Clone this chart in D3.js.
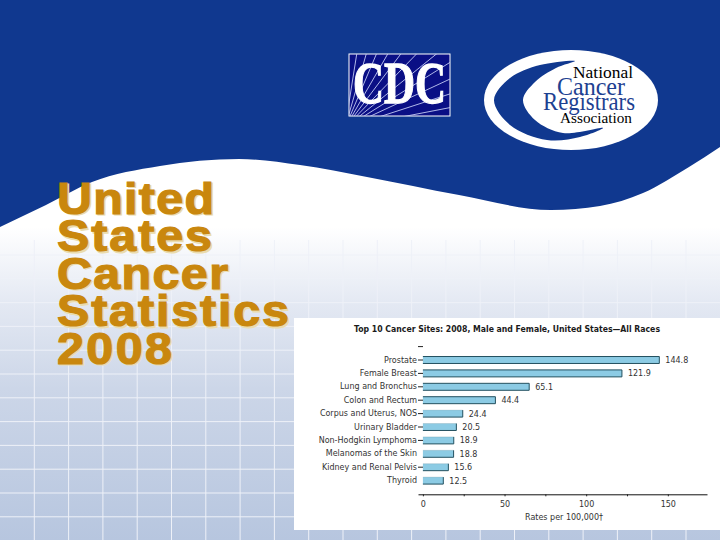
<!DOCTYPE html>
<html>
    <head>
        <meta charset="utf-8">
        <script src="https://cdnjs.cloudflare.com/ajax/libs/d3/7.8.5/d3.min.js" type="text/JavaScript"></script>
        <style>
            html, body { margin: 0; padding: 0; background: #fff; }
            svg { display: block; }
        </style>
    </head>
    <body>
        <svg width="720" height="540"></svg>
        <script>
            var categories = ["Prostate", "Female Breast", "Lung and Bronchus", "Colon and Rectum", "Corpus and Uterus, NOS", "Urinary Bladder", "Non-Hodgkin Lymphoma", "Melanomas of the Skin", "Kidney and Renal Pelvis", "Thyroid"];
            var rates = [144.8, 121.9, 65.1, 44.4, 24.4, 20.5, 18.9, 18.8, 15.6, 12.5];
            var xTicks = [0, 25, 50, 75, 100, 125, 150];
            var xTickLabels = ["0", "", "50", "", "100", "", "150"];
            var chartTitle = "Top 10 Cancer Sites: 2008, Male and Female, United States\u2014All Races";
            var xTitle = "Rates per 100,000\u2020";
            var slideTitle = ["United", "States", "Cancer", "Statistics", "2008"];

            var svg = d3.select("svg");
            var defs = svg.append("defs");

            // slide background
            var grad = defs.append("linearGradient").attr("id", "bg").attr("x1", 0).attr("y1", 0).attr("x2", 0).attr("y2", 1);
            grad.append("stop").attr("offset", "0.42").attr("stop-color", "#ffffff");
            grad.append("stop").attr("offset", "0.56").attr("stop-color", "#e4e9f3");
            grad.append("stop").attr("offset", "0.72").attr("stop-color", "#ccd6e8");
            grad.append("stop").attr("offset", "1").attr("stop-color", "#b7c6df");
            svg.append("rect").attr("width", 720).attr("height", 540).attr("fill", "url(#bg)");

            svg.selectAll("line.gridh").data(d3.range(255, 540, 23.8)).enter().append("line")
                .attr("x1", 0).attr("x2", 720).attr("y1", d => d).attr("y2", d => d)
                .attr("stroke", "#eef1f8").attr("stroke-width", 1);
            svg.selectAll("line.gridv").data(d3.range(34.3, 720, 34.3)).enter().append("line")
                .attr("x1", d => d).attr("x2", d => d).attr("y1", 240).attr("y2", 540)
                .attr("stroke", "#eef1f8").attr("stroke-width", 1);

            // blue band on top
            var wave = [[0, 227], [46, 205], [92, 182], [160, 166], [239, 159], [300, 165], [367, 177], [459, 195], [551, 210], [600, 206], [643, 193], [689, 167], [720, 147]];
            var waveLine = d3.line().curve(d3.curveMonotoneX);
            svg.append("path").attr("d", "M0,0L720,0L" + waveLine(wave.slice().reverse()).slice(1) + "Z").attr("fill", "#10388f");

            // CDC logo
            defs.append("clipPath").attr("id", "cdcClip").append("rect").attr("x", 349).attr("y", 54).attr("width", 101).attr("height", 62);
            svg.append("rect").attr("x", 349).attr("y", 54).attr("width", 101).attr("height", 62).attr("fill", "#0a0f85").attr("stroke", "#ffffff");
            svg.append("g").attr("clip-path", "url(#cdcClip)").selectAll("line").data(d3.range(4, 90, 7)).enter().append("line")
                .attr("x1", 345).attr("y1", 128)
                .attr("x2", d => 345 + 180 * Math.cos(d * Math.PI / 180))
                .attr("y2", d => 128 - 180 * Math.sin(d * Math.PI / 180))
                .attr("stroke", "#c3cbf4").attr("stroke-width", 0.9);
            svg.append("text").text("CDC").attr("x", 353).attr("y", 103).attr("font-family", "Liberation Serif").attr("font-weight", "bold")
                .attr("font-size", 60).attr("fill", "#ffffff").attr("stroke", "#ffffff").attr("stroke-width", 1.3)
                .attr("textLength", 93).attr("lengthAdjust", "spacingAndGlyphs");

            // NCRA logo
            svg.append("ellipse").attr("cx", 571).attr("cy", 100).attr("rx", 87).attr("ry", 50).attr("fill", "#ffffff");
            var crescent = [[575, 61], [540, 65], [510, 78], [494, 100], [510, 125], [547, 140], [580, 137], [603, 128], [563, 133], [535, 120], [523, 100], [535, 82], [556, 68]];
            svg.append("path").attr("d", d3.line().curve(d3.curveCatmullRomClosed)(crescent)).attr("fill", "#10388f");
            var ncra = [["National", 573, 78, 17, 60, "#000000"], ["Cancer", 557, 95, 25, 68, "#1d4191"], ["Registrars", 543, 110, 25, 92, "#1d4191"], ["Association", 560, 123, 15, 72, "#000000"]];
            svg.selectAll("text.ncra").data(ncra).enter().append("text").attr("class", "ncra")
                .text(d => d[0]).attr("x", d => d[1]).attr("y", d => d[2]).attr("font-size", d => d[3])
                .attr("textLength", d => d[4]).attr("lengthAdjust", "spacingAndGlyphs").attr("fill", d => d[5])
                .attr("font-family", "Liberation Serif");

            // slide title, wide glyphs plus a little tracking
            var titleWidths = [157, 155, 171, 232, 115];
            var titleStretch = 1.1;
            [["#eadcae", 1.5], ["#c9870e", 0]].forEach(function (layer) {
                svg.append("g").attr("transform", "scale(" + titleStretch + ",1)").selectAll("text").data(slideTitle).enter().append("text")
                    .text(d => d)
                    .attr("x", (57 + layer[1]) / titleStretch).attr("y", (d, i) => 214 + layer[1] + i * 37.5)
                    .attr("font-family", "Liberation Sans").attr("font-weight", "bold").attr("font-size", 44)
                    .attr("textLength", (d, i) => titleWidths[i] / titleStretch).attr("lengthAdjust", "spacing")
                    .attr("fill", layer[0]).attr("stroke", layer[0]).attr("stroke-width", 1.2);
            });

            // chart panel
            svg.append("rect").attr("x", 294).attr("y", 318).attr("width", 426).attr("height", 212).attr("fill", "#ffffff");

            var x = d3.scaleLinear().domain([-3, 174]).range([418, 707]);
            var y = d3.scaleBand().domain(["top"].concat(categories)).range([339.9, 487.3]).paddingInner(0.48).paddingOuter(0.24);
            var chartFont = "DejaVu Sans";
            var edge = "#23505f";

            svg.append("text").text(chartTitle).attr("x", 354).attr("y", 332).attr("font-family", chartFont).attr("font-weight", "bold")
                .attr("font-size", 8).attr("fill", "#1a1a1a").attr("textLength", 306).attr("lengthAdjust", "spacingAndGlyphs");

            svg.selectAll("rect.bar").data(rates).enter().append("rect").attr("class", "bar")
                .attr("x", x(0)).attr("y", (d, i) => y(categories[i]))
                .attr("width", d => x(d) - x(0)).attr("height", y.bandwidth())
                .attr("fill", "#8ccbe4");

            // right and bottom edge on every bar, top edge fades out on the short bars as in the scan
            svg.selectAll("path.edge").data(rates).enter().append("path").attr("class", "edge")
                .attr("d", (d, i) => "M" + x(0) + "," + (y(categories[i]) + y.bandwidth()) + "H" + x(d) + "V" + y(categories[i]))
                .attr("fill", "none").attr("stroke", edge).attr("stroke-width", 1);
            svg.selectAll("line.topedge").data(rates).enter().append("line").attr("class", "topedge")
                .attr("x1", x(0)).attr("x2", d => x(d))
                .attr("y1", (d, i) => y(categories[i])).attr("y2", (d, i) => y(categories[i]))
                .attr("stroke", edge).attr("stroke-opacity", (d, i) => i < 4 ? 1 : 0.15);

            svg.selectAll("text.value").data(rates).enter().append("text").attr("class", "value")
                .text(d => d.toFixed(1)).attr("x", d => x(d) + 6).attr("y", (d, i) => y(categories[i]) + y.bandwidth() / 2 + 3)
                .attr("font-family", chartFont).attr("font-size", 8).attr("fill", "#333333");

            var yAxis = svg.append("g").attr("transform", "translate(423,0)")
                .call(d3.axisLeft(y).tickSize(5).tickSizeOuter(0).tickPadding(1).tickFormat(d => d == "top" ? "" : d));
            yAxis.select(".domain").remove();
            yAxis.selectAll("text").attr("font-family", chartFont).attr("font-size", 8).attr("fill", "#333333");
            yAxis.selectAll("line").attr("stroke", "#222222")
                .attr("stroke-opacity", d => d == "Melanomas of the Skin" || d == "Thyroid" ? 0 : 1);

            var xAxis = svg.append("g").attr("transform", "translate(0,494.3)")
                .call(d3.axisBottom(x).tickValues(xTicks).tickSize(2).tickSizeOuter(0).tickPadding(5).tickFormat((d, i) => xTickLabels[i]));
            xAxis.selectAll("text").attr("font-family", chartFont).attr("font-size", 8).attr("fill", "#333333");
            xAxis.selectAll("line").attr("stroke", "#222222");
            xAxis.select(".domain").attr("stroke", "#111111");

            svg.append("text").text(xTitle).attr("x", 564).attr("y", 520).attr("text-anchor", "middle")
                .attr("font-family", chartFont).attr("font-size", 8).attr("fill", "#333333");
        </script>
    </body>
</html>
